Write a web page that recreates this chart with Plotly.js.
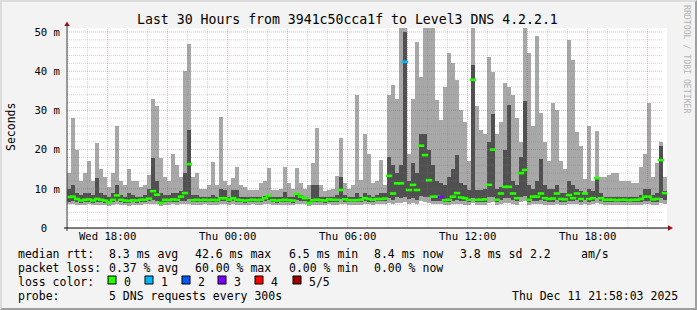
<!DOCTYPE html>
<html><head><meta charset="utf-8">
<script src="https://cdn.plot.ly/plotly-3.0.1.min.js"></script>
<style>
html,body{margin:0;padding:0;background:#f3f3f3;}
#wrap{position:relative;width:697px;height:310px;overflow:hidden;}
#chart{width:697px;height:310px;}
#frame{position:absolute;left:0;top:0;width:697px;height:310px;box-sizing:border-box;border-top:2px solid #dcdcdc;border-left:2px solid #dcdcdc;border-right:2px solid #9f9f9f;border-bottom:2px solid #9f9f9f;pointer-events:none;}
</style></head>
<body><div id="wrap"><div id="chart"></div><div id="frame"></div></div>
<script>
// ---- data (12-minute bins, values in milliseconds) ----
const rangeStart = '2025-12-10 15:58:03';
const rangeEnd   = '2025-12-11 21:58:03';
const firstBinStartUTC = [2025, 11, 10, 15, 58, 3];
const binMinutes = 12;

const pingMax = [
14, 28, 20, 12, 14, 17, 12, 21.6, 15, 13,
10.5, 14, 26, 12, 11, 15, 12, 12, 10.5, 11,
13.5, 33, 31, 17.8, 13, 12, 19, 16, 13, 40,
47, 13, 14, 10, 10, 11, 16.8, 11, 28.4, 12,
11, 12.7, 15.6, 11, 10.5, 9.6, 9.7, 9.6, 11.5, 12,
15.2, 9.7, 9.7, 10, 15.6, 11.4, 10, 15.2, 11.4, 10,
11, 16.5, 25.5, 11, 9.5, 9.7, 10, 13.2, 23, 11.4,
10, 11, 34, 12.2, 24, 19, 11.5, 12, 17.3, 11,
34, 36.5, 33, 51, 51, 19, 33, 47.4, 38.5, 51,
51, 51, 32.6, 27.5, 36, 44.6, 42, 37.8, 30, 27,
17, 51, 31, 25, 24, 43.6, 39.8, 24, 27, 37,
36, 34, 28, 22, 51, 44.6, 26, 49, 29.3, 22,
17, 32, 30, 17, 15, 48, 42.9, 24.5, 21, 12.5,
26, 12, 24.8, 13, 13, 13.5, 14, 14, 12, 12,
12, 11.4, 11.4, 15.6, 19, 32, 13, 16.5, 22, 13];

const pingQ3 = [
10, 11, 9, 8.5, 9, 9, 8.5, 12.7, 9, 8.5,
8, 9, 11, 8.5, 8, 9, 8.5, 8, 8, 8.5,
10, 17.8, 12, 9, 8.5, 8.5, 9, 9, 9.5, 14,
25, 8.5, 8.5, 8, 8, 8, 8.5, 8, 10, 9.7,
8, 9.7, 9.7, 8, 8, 8, 8, 7.8, 8, 8.2,
8.5, 7.8, 7.8, 8, 9.3, 8, 8, 8.8, 8.5, 8,
7.5, 11, 11, 8, 7.8, 8, 8, 8.5, 13, 8.5,
7.8, 8, 9, 8, 9, 8.5, 8, 8.5, 9, 9,
18, 16, 14, 16, 50, 12, 16.5, 14, 24, 24,
20, 16, 12, 11.4, 11, 13, 15, 18.6, 11.4, 11,
9.7, 41.6, 9.7, 9.7, 10, 22, 29, 10, 10.5, 20,
31.4, 12, 11, 18, 32.4, 11, 10, 12, 17.6, 11,
10, 10, 11, 9, 9, 12, 11, 10, 9.5, 9,
10, 9.5, 13, 9, 8, 8, 8, 8, 8, 7.8,
7.8, 7.8, 8, 8.5, 10, 10, 8.5, 9, 21, 9.5];

const pingMedian = [
7.9, 8.0, 7.4, 7.0, 7.2, 7.3, 7.0, 7.4, 7.2, 7.0,
6.6, 7.2, 8.3, 7.2, 7.0, 6.9, 7.1, 7.0, 7.2, 7.2,
7.5, 9.4, 8.5, 6.4, 7.2, 7.1, 7.3, 7.2, 8.0, 8.9,
16.3, 7.1, 7.2, 7.1, 7.2, 7.1, 7.2, 7.1, 7.6, 7.6,
7.2, 7.6, 7.2, 7.1, 7.0, 7.1, 7.2, 7.1, 7.2, 7.6,
8.2, 7.1, 7.0, 7.1, 7.2, 7.1, 7.0, 8.7, 8.0, 7.6,
6.4, 7.1, 7.2, 7.1, 7.0, 7.3, 7.2, 7.2, 9.7, 7.3,
7.1, 7.1, 7.1, 7.2, 7.6, 7.4, 7.2, 7.4, 7.4, 7.5,
13.3, 8.8, 11.4, 11.4, 42.4, 9.7, 11.0, 9.7, 21.0, 18.6,
12.2, 8.0, 8.0, 7.9, 7.1, 7.2, 8.0, 8.9, 7.8, 7.6,
7.2, 37.8, 7.2, 7.2, 7.3, 11.0, 20.0, 7.2, 8.8, 10.5,
10.5, 8.8, 7.6, 14.0, 14.8, 7.2, 8.0, 8.0, 8.8, 7.6,
7.4, 7.5, 8.8, 7.4, 7.3, 8.4, 7.6, 8.8, 7.4, 8.8,
7.4, 7.6, 12.7, 7.6, 7.2, 7.2, 7.2, 7.1, 7.2, 7.2,
7.1, 7.2, 7.2, 7.4, 8.0, 8.0, 7.3, 7.4, 17.3, 8.9];

const pingQ1 = [
6.7, 6.8, 6.6, 6.5, 6.6, 6.7, 6.5, 6.7, 6.6, 6.5,
6.3, 6.6, 6.9, 6.6, 6.5, 6.4, 6.6, 6.5, 6.6, 6.7,
6.8, 7.2, 6.9, 6.1, 6.6, 6.6, 6.7, 6.6, 6.9, 7.0,
7.4, 6.6, 6.6, 6.6, 6.7, 6.6, 6.6, 6.6, 6.9, 6.9,
6.6, 6.9, 6.6, 6.6, 6.5, 6.6, 6.7, 6.6, 6.6, 6.9,
7.1, 6.6, 6.5, 6.6, 6.6, 6.6, 6.5, 7.2, 7.0, 6.9,
6.1, 6.6, 6.6, 6.6, 6.5, 6.7, 6.6, 6.6, 7.3, 6.7,
6.6, 6.6, 6.6, 6.6, 6.9, 6.7, 6.6, 6.8, 6.8, 6.8,
7.6, 7.2, 7.8, 7.6, 8.0, 7.4, 7.6, 7.2, 8.2, 8.0,
7.8, 7.0, 7.0, 6.9, 6.6, 6.6, 7.0, 7.2, 6.9, 6.8,
6.6, 7.6, 6.6, 6.6, 6.7, 7.8, 8.0, 6.6, 7.2, 7.6,
7.6, 7.2, 6.8, 8.0, 8.2, 6.6, 7.0, 7.0, 7.2, 6.8,
6.7, 6.7, 7.2, 6.7, 6.7, 7.0, 6.9, 7.2, 6.7, 7.2,
6.7, 6.8, 7.6, 6.8, 6.6, 6.6, 6.6, 6.6, 6.6, 6.6,
6.6, 6.6, 6.6, 6.7, 7.0, 7.0, 6.7, 6.7, 7.6, 7.2];

const pingMin = [
6.0, 6.0, 5.9, 5.8, 5.9, 6.0, 5.8, 5.9, 5.9, 5.8,
5.6, 5.9, 6.0, 5.9, 5.8, 5.7, 5.9, 5.8, 5.9, 6.0,
6.0, 6.2, 6.0, 5.5, 5.9, 5.9, 6.0, 5.9, 6.1, 6.1,
6.2, 5.9, 5.9, 5.9, 6.0, 5.9, 5.9, 5.9, 6.1, 6.1,
5.9, 6.1, 5.9, 5.9, 5.8, 5.9, 6.0, 5.9, 5.9, 6.1,
6.2, 5.9, 5.8, 5.9, 5.9, 5.9, 5.8, 6.2, 6.1, 6.0,
5.5, 5.9, 5.9, 5.9, 5.8, 6.0, 5.9, 5.9, 6.2, 6.0,
5.9, 5.9, 5.9, 5.9, 6.1, 6.0, 5.9, 6.0, 6.0, 6.0,
6.4, 6.1, 6.5, 6.3, 6.6, 6.2, 6.4, 6.1, 6.8, 6.6,
6.5, 6.0, 6.0, 6.0, 5.8, 5.8, 6.0, 6.2, 6.0, 5.9,
5.8, 6.4, 5.8, 5.8, 5.9, 6.5, 6.6, 5.8, 6.2, 6.4,
6.4, 6.2, 5.9, 6.6, 6.8, 5.8, 6.0, 6.0, 6.2, 5.9,
5.9, 5.9, 6.2, 5.9, 5.9, 6.1, 6.0, 6.2, 5.9, 6.2,
5.9, 6.0, 6.4, 6.0, 5.8, 5.8, 5.8, 5.8, 5.8, 5.8,
5.8, 5.8, 5.8, 5.9, 6.1, 6.1, 5.9, 5.9, 6.4, 6.2];

const lossCount = [
0,0,0,0,0,0,0,0,0,0, 0,0,0,0,0,0,0,0,0,0,
0,0,0,0,0,0,0,0,0,0, 0,0,0,0,0,0,0,0,0,0,
0,0,0,0,0,0,0,0,0,0, 0,0,0,0,0,0,0,0,0,0,
0,0,0,0,0,0,0,0,0,0, 0,0,0,0,0,0,0,0,0,0,
0,0,0,0,1,0,0,0,0,0, 0,0,0,3,0,0,0,0,0,0,
0,0,0,0,0,0,0,0,0,0, 0,0,0,0,0,0,0,0,0,0,
0,0,0,0,0,0,0,0,0,0, 0,0,0,0,0,0,0,0,0,0,
0,0,0,0,0,0,0,0,0,0];

const lossColors = ['#26ff00', '#00b8ff', '#0059ff', '#7e00ff', '#ff0000', '#a10000'];
const lossLabels = ['0', '1', '2', '3', '4', '5/5'];

const yTickVals = [0, 10, 20, 30, 40, 50];
const yTickText = ['0\u00a0\u00a0', '10\u00a0m', '20\u00a0m', '30\u00a0m', '40\u00a0m', '50\u00a0m'];
const xTickVals = ['2025-12-10 18:00', '2025-12-11 00:00', '2025-12-11 06:00', '2025-12-11 12:00', '2025-12-11 18:00'];
const xTickText = ['Wed 18:00', 'Thu 00:00', 'Thu 06:00', 'Thu 12:00', 'Thu 18:00'];

const statRows = [
  ['median rtt:', '8.3 ms avg', '42.6 ms max', '6.5 ms min', '8.4 ms now', '3.8 ms sd', '2.2', 'am/s'],
  ['packet loss:', '0.37 % avg', '60.00 % max', '0.00 % min', '0.00 % now']
];
const probeText = '5 DNS requests every 300s';
const stampText = 'Thu Dec 11 21:58:03 2025';
const titleText = 'Last 30 Hours from 3941c50cca1f to Level3 DNS 4.2.2.1';

// ---- build ----
const MONO = 'DejaVu Sans Mono';
const binMs = binMinutes * 60000;
const t0 = Date.UTC.apply(null, firstBinStartUTC);
function fmt(ms) { return new Date(ms).toISOString().replace('T', ' ').slice(0, 19); }
const xs = pingMax.map((_, i) => fmt(t0 + (i + 0.5) * binMs));

const smokeOuter = {
  type: 'bar', x: xs, base: pingMin, y: pingMax.map((v, i) => v - pingMin[i]),
  width: binMs, marker: {color: '#a8a8a8', line: {width: 0}}, hoverinfo: 'skip'
};
const smokeInner = {
  type: 'bar', x: xs, base: pingQ1, y: pingQ3.map((v, i) => v - pingQ1[i]),
  width: binMs, marker: {color: '#505050', line: {width: 0}}, hoverinfo: 'skip'
};
const median = {
  type: 'scatter', mode: 'markers', x: xs, y: pingMedian,
  marker: {symbol: 'line-ew', size: 4.6, line: {width: 2.6, color: lossCount.map(l => lossColors[l])}},
  hoverinfo: 'skip'
};

// pixel helpers for plot frame: plot area 67..667 x, 28..228 y
const PL = 67, PR = 667, PT = 28, PB = 228;
const px = x => (x - PL) / (PR - PL);
const py = y => (PB - y) / (PB - PT);

const shapes = [];
// grid on top of smoke
const hStart = Date.UTC(2025, 11, 10, 16), hEnd = Date.UTC(2025, 11, 11, 21);
for (let h = hStart; h <= hEnd; h += 3600000) {
  const major = new Date(h).getUTCHours() % 3 === 0;
  shapes.push({type: 'line', layer: 'above', xref: 'x', yref: 'paper', x0: fmt(h), x1: fmt(h), y0: 0, y1: 1,
    line: {color: major ? 'rgba(255,40,40,0.42)' : 'rgba(120,120,120,0.32)', width: 1, dash: '1px,1px'}});
}
for (let v = 2; v <= 50; v += 2) {
  const major = v % 10 === 0;
  shapes.push({type: 'line', layer: 'above', xref: 'paper', yref: 'y', x0: 0, x1: px(663), y0: v, y1: v,
    line: {color: major ? 'rgba(255,40,40,0.42)' : 'rgba(120,120,120,0.32)', width: 1, dash: '1px,1px'}});
}
// axes + arrows
shapes.push({type: 'line', layer: 'above', xref: 'paper', yref: 'paper', x0: px(67), x1: px(67), y0: py(231), y1: py(25), line: {color: '#404040', width: 1}});
shapes.push({type: 'line', layer: 'above', xref: 'paper', yref: 'paper', x0: px(64), x1: px(669), y0: py(228), y1: py(228), line: {color: '#000', width: 1}});
shapes.push({type: 'path', layer: 'above', xref: 'paper', yref: 'paper',
  path: `M ${px(64.3)} ${py(26)} L ${px(69.7)} ${py(26)} L ${px(67)} ${py(21.5)} Z`, fillcolor: '#9b1010', line: {width: 0}});
shapes.push({type: 'path', layer: 'above', xref: 'paper', yref: 'paper',
  path: `M ${px(668)} ${py(225.3)} L ${px(668)} ${py(230.7)} L ${px(673)} ${py(228)} Z`, fillcolor: '#9b1010', line: {width: 0}});

const ann = [];
function txt(text, x, y, opts) {
  ann.push(Object.assign({text: text, xref: 'paper', yref: 'paper', x: px(x), y: py(y), showarrow: false,
    xanchor: 'left', yanchor: 'middle', font: {family: MONO, size: 11.5, color: '#000'}}, opts || {}));
}
txt(titleText, 347, 19, {xanchor: 'center', font: {family: MONO, size: 13.2, color: '#000'}});
txt('Seconds', 11, 127, {xanchor: 'center', textangle: -90, font: {family: MONO, size: 11.5, color: '#000'}});
txt('RRDTOOL / TOBI OETIKER', 687, 59, {xanchor: 'center', textangle: 90, font: {family: MONO, size: 8.2, color: '#b4b4b4'}});
const colX = [16, 107, 193, 287, 372, 458, 528, 579];
statRows.forEach((row, r) => row.forEach((s, c) => txt(s, colX[c], 254 + r * 14)));
txt('loss color:', 16, 282);
const boxX = [108, 145, 182, 218, 255, 293];
lossLabels.forEach((lab, k) => {
  shapes.push({type: 'rect', layer: 'above', xref: 'paper', yref: 'paper', x0: px(boxX[k]), x1: px(boxX[k] + 8), y0: py(284), y1: py(276),
    fillcolor: lossColors[k], line: {color: '#000', width: 1}});
  txt(lab, boxX[k] + 14, 282);
});
txt('probe:', 16, 296);
txt(probeText, 107, 296);
txt(stampText, 680, 296, {xanchor: 'right'});

const layout = {
  width: 697, height: 310, autosize: false,
  margin: {l: PL, r: 697 - PR, t: PT, b: 310 - PB, pad: 0},
  paper_bgcolor: '#f3f3f3', plot_bgcolor: '#ffffff',
  showlegend: false, barmode: 'overlay', bargap: 0,
  xaxis: {type: 'date', range: [rangeStart, rangeEnd], tickvals: xTickVals, ticktext: xTickText,
    showgrid: false, zeroline: false, showline: false, ticks: '', ticklabelstandoff: 1.5,
    tickfont: {family: MONO, size: 10.6, color: '#000'}, fixedrange: true},
  yaxis: {range: [0, 51.02], tickvals: yTickVals, ticktext: yTickText,
    showgrid: false, zeroline: false, showline: false, ticks: '', ticklabelstandoff: 6,
    tickfont: {family: MONO, size: 10.6, color: '#000'}, fixedrange: true},
  shapes: shapes, annotations: ann
};
Plotly.newPlot('chart', [smokeOuter, smokeInner, median], layout, {staticPlot: true, displayModeBar: false});
</script>
</body></html>
